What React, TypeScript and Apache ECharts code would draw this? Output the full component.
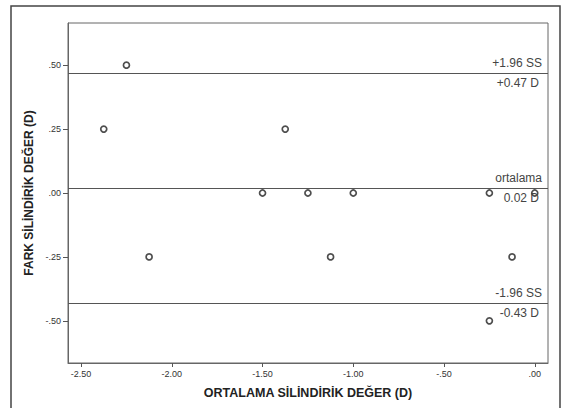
import React, { useEffect, useRef } from "react";
import * as echarts from "echarts";

const meanValues = [-2.25, -2.375, -1.375, -1.5, -1.25, -1.0, -0.25, 0, -2.125, -1.125, -0.125, -0.25];
const diffValues = [0.5, 0.25, 0.25, 0, 0, 0, 0, 0, -0.25, -0.25, -0.25, -0.5];
const xTicks = [-2.5, -2.0, -1.5, -1.0, -0.5, 0];
const yTicks = [-0.5, -0.25, 0, 0.25, 0.5];
const upperLimit = 0.47;
const meanDiff = 0.02;
const lowerLimit = -0.43;
const refLabels = [
  { value: upperLimit, top: "+1.96 SS", bottom: "+0.47 D" },
  { value: meanDiff, top: "ortalama", bottom: "0.02 D" },
  { value: lowerLimit, top: "-1.96 SS", bottom: "-0.43 D" },
];

const fmt = (v: number) => {
  const s = Math.abs(v).toFixed(2).replace(/^0/, "");
  return (v < 0 ? "-" : "") + s;
};

export default function App() {
  const ref = useRef<HTMLDivElement>(null);
  useEffect(() => {
    document.body.style.margin = "0";
    const chart = echarts.init(ref.current!, null, { renderer: "svg" });
    const markData: any[] = [];
    refLabels.forEach((r) => {
      markData.push({
        yAxis: r.value,
        label: { formatter: r.top, position: "insideEndTop", distance: [6, 4] },
      });
      markData.push({
        yAxis: r.value,
        label: { formatter: r.bottom, position: "insideEndBottom", distance: [9, 4] },
      });
    });
    chart.setOption({
      animation: false,
      backgroundColor: "#ffffff",
      textStyle: { fontFamily: "Liberation Sans, Arial, sans-serif" },
      graphic: [
        {
          type: "rect",
          shape: { x: 11, y: 6, width: 549, height: 430 },
          style: { fill: "none", stroke: "#444", lineWidth: 1.5 },
          silent: true,
        },
      ],
      grid: { left: 68, top: 23, right: 14, bottom: 45, show: true, borderColor: "#666", borderWidth: 1 },
      xAxis: {
        type: "value",
        min: -2.572,
        max: 0.073,
        name: "ORTALAMA SİLİNDİRİK DEĞER (D)",
        nameLocation: "middle",
        nameGap: 23,
        nameTextStyle: { fontSize: 12.5, fontWeight: "bold", color: "#222" },
        axisLine: { show: true, onZero: false, lineStyle: { color: "#666" } },
        axisTick: { show: true, length: 4, lineStyle: { color: "#555" }, customValues: xTicks },
        axisLabel: { fontSize: 9, color: "#333", margin: 6, customValues: xTicks, formatter: (v: number) => fmt(v) },
        splitLine: { show: false },
      },
      yAxis: {
        type: "value",
        min: -0.665,
        max: 0.665,
        name: "FARK SİLİNDİRİK DEĞER (D)",
        nameLocation: "middle",
        nameRotate: 90,
        nameGap: 30,
        nameTextStyle: { fontSize: 12, fontWeight: "bold", color: "#222" },
        axisLine: { show: true, onZero: false, lineStyle: { color: "#666" } },
        axisTick: { show: true, length: 5, lineStyle: { color: "#555" }, customValues: yTicks },
        axisLabel: { fontSize: 9, color: "#333", margin: 7, customValues: yTicks, formatter: (v: number) => fmt(v) },
        splitLine: { show: false },
      },
      series: [
        {
          type: "scatter",
          data: meanValues.map((x, i) => [x, diffValues[i]]),
          symbol: "circle",
          symbolSize: 6,
          itemStyle: { color: "#fff", borderColor: "#222", borderWidth: 1.7 },
          markLine: {
            silent: true,
            symbol: "none",
            lineStyle: { color: "#555", width: 1, type: "solid" },
            label: { fontSize: 12, color: "#444" },
            data: markData,
          },
          z: 3,
        },
      ],
    });
    return () => chart.dispose();
  }, []);
  return <div ref={ref} style={{ width: 562, height: 408 }} />;
}
